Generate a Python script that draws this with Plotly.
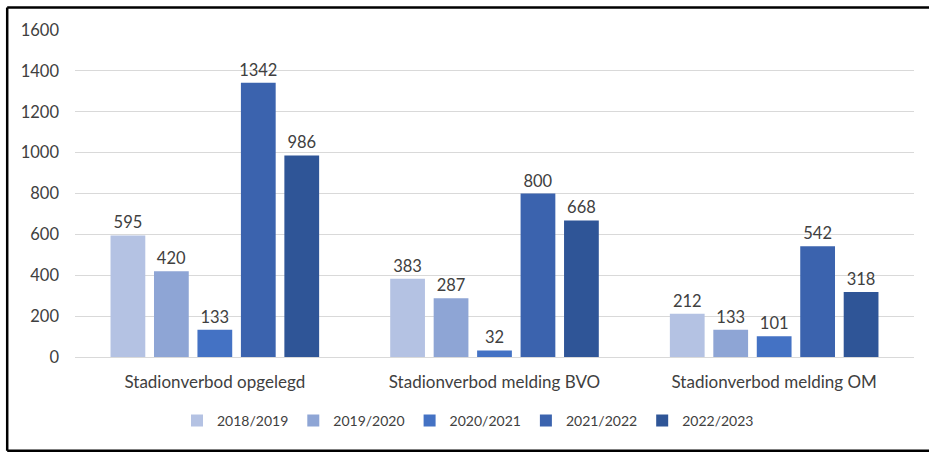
import plotly.graph_objects as go

categories = ["Stadionverbod opgelegd", "Stadionverbod melding BVO", "Stadionverbod melding OM"]
seasons = ["2018/2019", "2019/2020", "2020/2021", "2021/2022", "2022/2023"]
v_2018_2019 = [595, 383, 212]
v_2019_2020 = [420, 287, 133]
v_2020_2021 = [133, 32, 101]
v_2021_2022 = [1342, 800, 542]
v_2022_2023 = [986, 668, 318]
values = [v_2018_2019, v_2019_2020, v_2020_2021, v_2021_2022, v_2022_2023]
colors = ["#B4C2E3", "#8EA5D5", "#4472C4", "#3B63AE", "#2F5597"]

FONT = "Lato"
fig = go.Figure()
for s, v, c in zip(seasons, values, colors):
    fig.add_trace(go.Bar(
        x=categories, y=v, name=s, marker=dict(color=c, line=dict(width=0)),
        text=[str(x) for x in v], textposition="outside", cliponaxis=False,
        constraintext="none",
        textfont=dict(family=FONT, size=16.5, color="#404040"),
    ))

W, H = 929, 452
L, R, T, B = 75, 15, 29.5, 95
pw, ph = W - L - R, H - T - B

def px_to_paper_x(x):
    return (x - L) / pw

def px_to_paper_y(y):
    return (H - B - y) / ph

border = dict(color="black", width=2.5)
xl, xr = px_to_paper_x(7.2), px_to_paper_x(990)
yt, yb = px_to_paper_y(7), px_to_paper_y(450.8)
fig.add_shape(type="line", xref="paper", yref="paper", x0=xl, x1=xr, y0=yt, y1=yt, line=border)
fig.add_shape(type="line", xref="paper", yref="paper", x0=xl, x1=xr, y0=yb, y1=yb, line=border)
fig.add_shape(type="line", xref="paper", yref="paper", x0=xl, x1=xl, y0=yb, y1=yt, line=border)

fig.update_layout(
    width=W, height=H,
    margin=dict(l=L, r=R, t=T, b=B, autoexpand=False),
    paper_bgcolor="white", plot_bgcolor="white",
    barmode="group", bargap=0.223, bargroupgap=0.2,
    font=dict(family=FONT, size=15, color="#595959"),
    showlegend=True,
    legend=dict(orientation="h", x=px_to_paper_x(468), xanchor="center", y=px_to_paper_y(421), yanchor="middle",
                font=dict(family=FONT, size=14, color="#404040"), itemwidth=30,
                traceorder="normal", itemclick=False),
    xaxis=dict(showgrid=False, showline=True, linecolor="#D9D9D9", linewidth=1,
               ticks="", automargin=False, ticklabelstandoff=10,
               tickfont=dict(family=FONT, size=17, color="#404040")),
    yaxis=dict(range=[0, 1600], dtick=200, showgrid=True, gridcolor="#D9D9D9", gridwidth=1,
               zeroline=False, showline=False, ticks="", ticklen=0, automargin=False,
               ticklabelstandoff=15,
               tickfont=dict(family=FONT, size=16.5, color="#404040")),
)
fig.write_html("out.html", config={"displayModeBar": False},
               post_script="document.body.style.margin='0';document.body.style.overflow='hidden';")
